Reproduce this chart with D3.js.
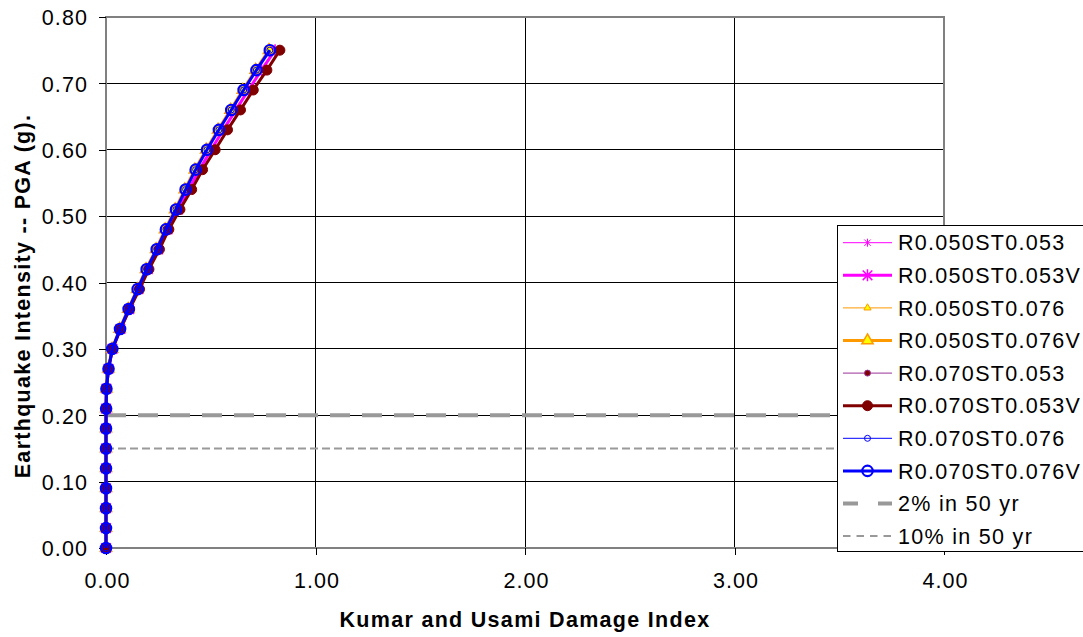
<!DOCTYPE html>
<html><head><meta charset="utf-8">
<script src="https://cdn.jsdelivr.net/npm/d3@7/dist/d3.min.js"></script>
<style>body{margin:0;background:#fff}svg text{font-family:"Liberation Sans",Arial,sans-serif}</style>
</head><body><svg id="c" width="1083" height="637"></svg>
<script>
const pga = [0,0.03,0.06,0.09,0.12,0.15,0.18,0.21,0.24,0.27,0.30,0.33,0.36,0.39,0.42,0.45,0.48,0.51,0.54,0.57,0.60,0.63,0.66,0.69,0.72,0.75];
const dmgR050ST053  = [0,0,0,0,0,0,0,0.0005,0.002,0.012,0.031,0.068,0.110,0.154,0.199,0.248,0.293,0.343,0.393,0.444,0.500,0.558,0.618,0.678,0.740,0.805];
const dmgR050ST053V = [0,0,0,0,0,0,0,0.0005,0.002,0.012,0.031,0.069,0.111,0.155,0.200,0.249,0.294,0.344,0.394,0.446,0.502,0.560,0.620,0.680,0.742,0.807];
const dmgR050ST076  = [0,0,0,0,0,0,0,0.0005,0.002,0.011,0.029,0.065,0.105,0.148,0.190,0.238,0.281,0.329,0.375,0.422,0.476,0.533,0.592,0.651,0.712,0.776];
const dmgR050ST076V = [0,0,0,0,0,0,0,0.0005,0.002,0.011,0.029,0.065,0.106,0.149,0.191,0.239,0.282,0.330,0.376,0.424,0.478,0.535,0.594,0.653,0.714,0.778];
const dmgR070ST053  = [0,0,0,0,0,0,0,0.0005,0.002,0.012,0.031,0.070,0.112,0.159,0.204,0.254,0.299,0.351,0.406,0.458,0.518,0.577,0.639,0.700,0.765,0.827];
const dmgR070ST053V = [0,0,0,0,0,0,0,0.0005,0.002,0.012,0.031,0.070,0.113,0.160,0.205,0.255,0.300,0.353,0.409,0.461,0.521,0.580,0.642,0.703,0.768,0.830];
const dmgR070ST076  = [0,0,0,0,0,0,0,0.0005,0.002,0.012,0.030,0.067,0.108,0.151,0.194,0.242,0.286,0.334,0.380,0.428,0.482,0.539,0.598,0.657,0.718,0.782];
const dmgR070ST076V = [0,0,0,0,0,0,0,0.0005,0.002,0.012,0.030,0.067,0.108,0.151,0.194,0.242,0.286,0.334,0.380,0.428,0.482,0.539,0.598,0.657,0.718,0.782];
const seriesNames = ["R0.050ST0.053","R0.050ST0.053V","R0.050ST0.076","R0.050ST0.076V","R0.070ST0.053","R0.070ST0.053V","R0.070ST0.076","R0.070ST0.076V"];
const hazardNames = ["2% in 50 yr","10% in 50 yr"];
const hazardPGA = [0.20, 0.15];
const xTicks = [0,1,2,3,4];
const yTicks = [0,0.1,0.2,0.3,0.4,0.5,0.6,0.7,0.8];

const dmg = [dmgR050ST053,dmgR050ST053V,dmgR050ST076,dmgR050ST076V,dmgR070ST053,dmgR070ST053V,dmgR070ST076,dmgR070ST076V];
const styles = [
 {line:"#FF00FF", w:1, m:"ast", s:4, stroke:"#FF00FF", fill:"none", sw:1},
 {line:"#FF00FF", w:3, m:"ast", s:6, stroke:"#FF00FF", fill:"none", sw:1.5},
 {line:"#FF9900", w:1, m:"tri", s:22, stroke:"#FF9900", fill:"#FFFF00", sw:1},
 {line:"#FF9900", w:3, m:"tri", s:55, stroke:"#FF9900", fill:"#FFFF00", sw:1.5},
 {line:"#993399", w:1, m:"cir", s:3, stroke:"#993399", fill:"#800000", sw:1},
 {line:"#800000", w:3, m:"cir", s:5, stroke:"#800000", fill:"#800000", sw:1},
 {line:"#0000FF", w:1, m:"cir", s:3, stroke:"#0000FF", fill:"none", sw:1},
 {line:"#0000FF", w:3, m:"cir", s:5.2, stroke:"#0000FF", fill:"none", sw:2.2}
];

const svg = d3.select("#c");
const L=106,R=944,T=17,B=548;
const x = d3.scaleLinear().domain([0,4]).range([L,R]);
const y = d3.scaleLinear().domain([0,0.8]).range([B,T]);

// grid
svg.append("g").selectAll("line").data(yTicks.slice(1,-1)).join("line")
  .attr("x1",L).attr("x2",R).attr("y1",d=>y(d)).attr("y2",d=>y(d)).attr("stroke","#000").attr("stroke-width",1).attr("shape-rendering","crispEdges");
svg.append("g").selectAll("line").data(xTicks.slice(1,-1)).join("line")
  .attr("y1",T).attr("y2",B).attr("x1",d=>x(d)).attr("x2",d=>x(d)).attr("stroke","#000").attr("stroke-width",1).attr("shape-rendering","crispEdges");
// plot border
svg.append("rect").attr("x",L).attr("y",T).attr("width",R-L).attr("height",B-T).attr("fill","none").attr("stroke","#808080").attr("stroke-width",1.5).attr("shape-rendering","crispEdges");

// axes
const fmt = d3.format(".2f");
const yAx = svg.append("g").attr("transform",`translate(${L},0)`).call(d3.axisLeft(y).tickValues(yTicks).tickFormat(fmt).tickSize(7).tickSizeOuter(0));
const xAx = svg.append("g").attr("transform",`translate(0,${B})`).call(d3.axisBottom(x).tickValues(xTicks).tickFormat(fmt).tickSize(7).tickSizeOuter(0));
[yAx,xAx].forEach(a=>{a.select(".domain").remove(); a.selectAll(".tick line").attr("stroke","#000").attr("shape-rendering","crispEdges");
  a.selectAll("text").attr("font-size",21.5).attr("letter-spacing","1.1px").attr("fill","#000").attr("font-family","Liberation Sans, Arial, sans-serif");});
yAx.selectAll("text").attr("x",-18).attr("dy","0.36em");
xAx.selectAll("text").attr("y",25).attr("dy","0.71em").attr("dx","1px");

// titles
svg.append("text").attr("x",(L+R)/2).attr("y",627).attr("text-anchor","middle").attr("font-size",21.5).attr("letter-spacing","1.3px").attr("font-weight","bold").text("Kumar and Usami Damage Index");
svg.append("text").attr("transform",`translate(30,296) rotate(-90)`).attr("text-anchor","middle").attr("font-size",21.5).attr("letter-spacing","1.3px").attr("font-weight","bold").text("Earthquake Intensity -- PGA (g).");

// hazard lines
const dashes = ["20,12","8,4"], hw=[4,2];
svg.append("g").selectAll("line").data(hazardPGA).join("line")
  .attr("x1",x(0)).attr("x2",R).attr("y1",d=>y(d)).attr("y2",d=>y(d))
  .attr("stroke","#999999").attr("stroke-width",(d,i)=>hw[i]).attr("stroke-dasharray",(d,i)=>dashes[i]);

function astPath(s){return `M0,${-s}V${s}M${-s*0.8},${-s*0.8}L${s*0.8},${s*0.8}M${-s*0.8},${s*0.8}L${s*0.8},${-s*0.8}`;}
function drawMarker(g, st){
  if(st.m==="ast") g.append("path").attr("d",astPath(st.s)).attr("stroke",st.stroke).attr("stroke-width",st.sw).attr("fill","none");
  else if(st.m==="tri") g.append("path").attr("d",d3.symbol(d3.symbolTriangle,st.s)()).attr("stroke",st.stroke).attr("stroke-width",st.sw).attr("fill",st.fill);
  else g.append("circle").attr("r",st.s).attr("stroke",st.stroke).attr("stroke-width",st.sw).attr("fill",st.fill);
}
const line = d3.line().x(d=>x(d[0])).y(d=>y(d[1]));
dmg.forEach((arr,i)=>{
  const st=styles[i];
  const pts = arr.map((v,j)=>[v,pga[j]]);
  svg.append("path").datum(pts).attr("d",line).attr("fill","none").attr("stroke",st.line).attr("stroke-width",st.w);
  pts.forEach(p=>{const g=svg.append("g").attr("transform",`translate(${x(p[0])},${y(p[1])})`); drawMarker(g,st);});
});

// legend
const lg = svg.append("g");
lg.append("rect").attr("x",837.5).attr("y",225.5).attr("width",260).attr("height",326).attr("fill","#fff").attr("stroke","#000").attr("stroke-width",1);
const rowY = i=>242.7+i*32.6;
seriesNames.forEach((n,i)=>{
  const st=styles[i], cy=rowY(i);
  lg.append("line").attr("x1",843).attr("x2",892).attr("y1",cy).attr("y2",cy).attr("stroke",st.line).attr("stroke-width",st.w);
  drawMarker(lg.append("g").attr("transform",`translate(867.5,${cy})`),st);
  lg.append("text").attr("x",898).attr("y",cy).attr("dy","0.36em").attr("font-size",21.5).attr("letter-spacing","1.3px").text(n);
});
hazardNames.forEach((n,k)=>{
  const cy=rowY(8+k);
  lg.append("line").attr("x1",843).attr("x2",892).attr("y1",cy).attr("y2",cy).attr("stroke","#999999").attr("stroke-width",hw[k]).attr("stroke-dasharray",k===0?"15,20":"7.5,6");
  lg.append("text").attr("x",898).attr("y",cy).attr("dy","0.36em").attr("font-size",21.5).attr("letter-spacing","1.3px").text(n);
});
</script></body></html>
